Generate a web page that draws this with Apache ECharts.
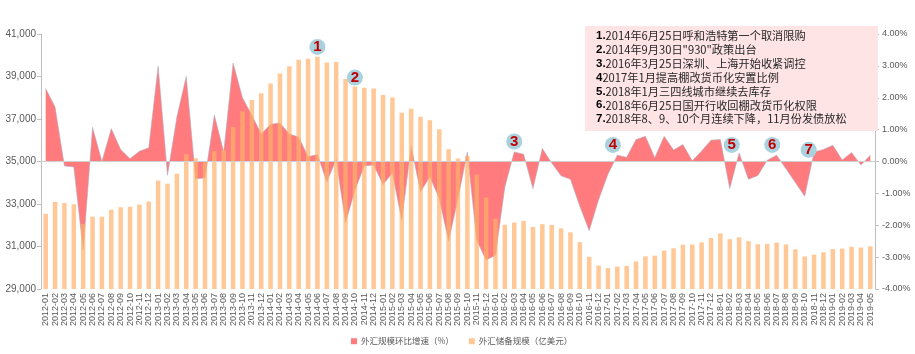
<!DOCTYPE html>
<html>
<head>
<meta charset="utf-8">
<script src="https://cdn.jsdelivr.net/npm/echarts@6/dist/echarts.min.js"></script>
<style>
html, body { margin: 0; padding: 0; background: #fff; }
#main { width: 915px; height: 354px; }
</style>
</head>
<body>
<div id="main"></div>
<script>
// 月份
const months = [
    '2012-01','2012-02','2012-03','2012-04','2012-05','2012-06','2012-07','2012-08','2012-09','2012-10','2012-11','2012-12',
    '2013-01','2013-02','2013-03','2013-04','2013-05','2013-06','2013-07','2013-08','2013-09','2013-10','2013-11','2013-12',
    '2014-01','2014-02','2014-03','2014-04','2014-05','2014-06','2014-07','2014-08','2014-09','2014-10','2014-11','2014-12',
    '2015-01','2015-02','2015-03','2015-04','2015-05','2015-06','2015-07','2015-08','2015-09','2015-10','2015-11','2015-12',
    '2016-01','2016-02','2016-03','2016-04','2016-05','2016-06','2016-07','2016-08','2016-09','2016-10','2016-11','2016-12',
    '2017-01','2017-02','2017-03','2017-04','2017-05','2017-06','2017-07','2017-08','2017-09','2017-10','2017-11','2017-12',
    '2018-01','2018-02','2018-03','2018-04','2018-05','2018-06','2018-07','2018-08','2018-09','2018-10','2018-11','2018-12',
    '2019-01','2019-02','2019-03','2019-04','2019-05'
];

// 外汇储备规模（亿美元）
const reserves = [
    32536, 33100, 33049, 32990, 32061, 32400, 32400, 32730, 32850, 32870, 32970, 33116,
    34100, 33955, 34427, 35345, 35148, 34967, 35478, 35530, 36627, 37366, 37895, 38213,
    38666, 39137, 39481, 39788, 39839, 39932, 39660, 39688, 38877, 38529, 38474, 38430,
    38134, 38015, 37300, 37481, 37111, 36938, 36513, 35574, 35141, 35255, 34383, 33304,
    32309, 32023, 32126, 32197, 31917, 32052, 32011, 31852, 31664, 31206, 30516, 30105,
    29982, 30051, 30091, 30295, 30536, 30568, 30807, 30915, 31085, 31092, 31193, 31399,
    31615, 31345, 31428, 31249, 31106, 31121, 31179, 31097, 30870, 30531, 30617, 30727,
    30879, 30902, 30988, 30950, 31010
];

// 外汇规模环比增速（%）
const growth = [
    2.29, 1.71, -0.14, -0.17, -2.78, 1.07, 0.00, 1.03, 0.38, 0.09, 0.32, 0.43,
    2.99, -0.43, 1.40, 2.67, -0.54, -0.52, 1.45, 0.30, 3.09, 2.00, 1.45, 0.86,
    1.17, 1.21, 0.86, 0.77, 0.15, 0.22, -0.64, 0.06, -1.92, -0.90, -0.14, -0.11,
    -0.72, -0.36, -1.84, 0.48, -0.95, -0.48, -1.16, -2.50, -1.16, 0.30, -2.47, -3.09,
    -2.94, -0.80, 0.30, 0.23, -0.85, 0.41, -0.05, -0.45, -0.56, -1.40, -2.17, -1.20,
    -0.40, 0.20, 0.13, 0.69, 0.79, 0.12, 0.79, 0.36, 0.53, 0.02, 0.33, 0.67,
    0.69, -0.85, 0.27, -0.56, -0.44, 0.04, 0.20, -0.23, -0.66, -1.09, 0.30, 0.38,
    0.51, 0.05, 0.28, -0.11, 0.20
];

// 左轴刻度
const leftMin = 29000, leftMax = 41000, leftStep = 2000;
// 右轴刻度
const rightMin = -4, rightMax = 4, rightStep = 1;

// 事件说明
const notes = [
    ['1.', '2014年6月25日呼和浩特第一个取消限购'],
    ['2.', '2014年9月30日"930"政策出台'],
    ['3.', '2016年3月25日深圳、上海开始收紧调控'],
    ['4', '2017年1月提高棚改货币化安置比例'],
    ['5.', '2018年1月三四线城市继续去库存'],
    ['6.', '2018年6月25日国开行收回棚改货币化权限'],
    ['7.', '2018年8、9、10个月连续下降，11月份发债放松']
];

// 圆圈标号：编号、月份、左轴位置
const markerIds = ['1', '2', '3', '4', '5', '6', '7'];
const markerMonths = ['2014-06', '2014-10', '2016-03', '2017-01', '2018-02', '2018-06', '2018-10'];
const markerLevels = [40390, 38950, 35940, 35780, 35780, 35780, 35550];
const markerShift = [0, 0, 0, 5, 2, 5, 4];

const FONT = '"Liberation Sans", "Noto Sans CJK SC", sans-serif';
const CJK = '"Noto Sans CJK SC", "Liberation Sans", sans-serif';

const chart = echarts.init(document.getElementById('main'));

const noteText = notes.map(n => '{b|' + n[0] + '}{t|' + n[1] + '}').join('\n');

const option = {
    animation: false,
    backgroundColor: '#fff',
    textStyle: { fontFamily: FONT },
    grid: { left: 41, right: 40, top: 34, bottom: 65, containLabel: false },
    legend: {
        left: 346,
        top: 332,
        itemWidth: 6,
        itemHeight: 6,
        itemGap: 15,
        icon: 'rect',
        textStyle: { fontFamily: CJK, fontSize: 8.5, color: '#595959', padding: [0, 0, 0, -1] },
        data: ['外汇规模环比增速（%）', '外汇储备规模（亿美元）']
    },
    xAxis: {
        type: 'category',
        data: months,
        boundaryGap: true,
        axisLine: { lineStyle: { color: '#BFBFBF' } },
        axisTick: { lineStyle: { color: '#BFBFBF' }, length: 3 },
        axisLabel: {
            interval: 0,
            rotate: 90,
            fontSize: 9,
            color: '#595959',
            margin: 4
        },
        splitLine: { show: false }
    },
    yAxis: [
        {
            type: 'value',
            min: leftMin,
            max: leftMax,
            interval: leftStep,
            position: 'left',
            axisLine: { show: true, lineStyle: { color: '#BFBFBF' } },
            axisTick: { show: true, lineStyle: { color: '#BFBFBF' }, length: 4 },
            axisLabel: {
                fontSize: 10,
                color: '#595959',
                margin: 5,
                formatter: v => v.toLocaleString('en-US')
            },
            splitLine: { show: false }
        },
        {
            type: 'value',
            min: rightMin,
            max: rightMax,
            interval: rightStep,
            position: 'right',
            axisLine: { show: true, lineStyle: { color: '#BFBFBF' } },
            axisTick: { show: true, lineStyle: { color: '#BFBFBF' }, length: 4 },
            axisLabel: {
                fontSize: 9,
                color: '#595959',
                margin: 7,
                formatter: v => v.toFixed(2) + '%'
            },
            splitLine: { show: false }
        }
    ],
    series: [
        {
            name: '外汇规模环比增速（%）',
            type: 'line',
            yAxisIndex: 1,
            data: growth,
            symbol: 'none',
            smooth: false,
            itemStyle: { color: '#FF7B7E' },
            lineStyle: { color: 'rgba(175,170,190,0.7)', width: 0.8 },
            areaStyle: { color: '#FF7B7E', opacity: 1, origin: 0 },
            markLine: {
                silent: true,
                symbol: 'none',
                label: { show: false },
                lineStyle: { color: '#D0D0D0', width: 1, type: 'solid' },
                data: [{ yAxis: 0 }]
            },
            z: 2
        },
        {
            name: '外汇储备规模（亿美元）',
            type: 'bar',
            yAxisIndex: 0,
            data: reserves,
            barWidth: 4.5,
            itemStyle: { color: '#FFB16A', opacity: 0.7 },
            markPoint: {
                symbol: 'circle',
                symbolSize: 16,
                itemStyle: { color: '#A9D1DE', opacity: 1 },
                label: {
                    show: true,
                    position: 'inside',
                    formatter: '{b}',
                    color: '#C00000',
                    fontWeight: 'bold',
                    fontSize: 15,
                    fontFamily: FONT
                },
                data: markerIds.map((id, i) => ({
                    name: id,
                    coord: [markerMonths[i], markerLevels[i]],
                    symbolOffset: [markerShift[i], 0]
                }))
            },
            z: 3
        }
    ],
    graphic: [
        {
            type: 'rect',
            left: 585,
            top: 26,
            z: 100,
            shape: { width: 293, height: 105 },
            style: { fill: '#FFE4E6' }
        },
        {
            type: 'text',
            left: 596,
            top: 30,
            z: 101,
            style: {
                text: noteText,
                rich: {
                    b: { fontFamily: FONT, fontWeight: 'bold', fontSize: 11.5, lineHeight: 13.9, fill: '#000' },
                    t: { fontFamily: CJK, fontSize: 11.2, lineHeight: 13.9, fill: '#262626' }
                }
            }
        }
    ]
};

chart.setOption(option);
</script>
</body>
</html>
